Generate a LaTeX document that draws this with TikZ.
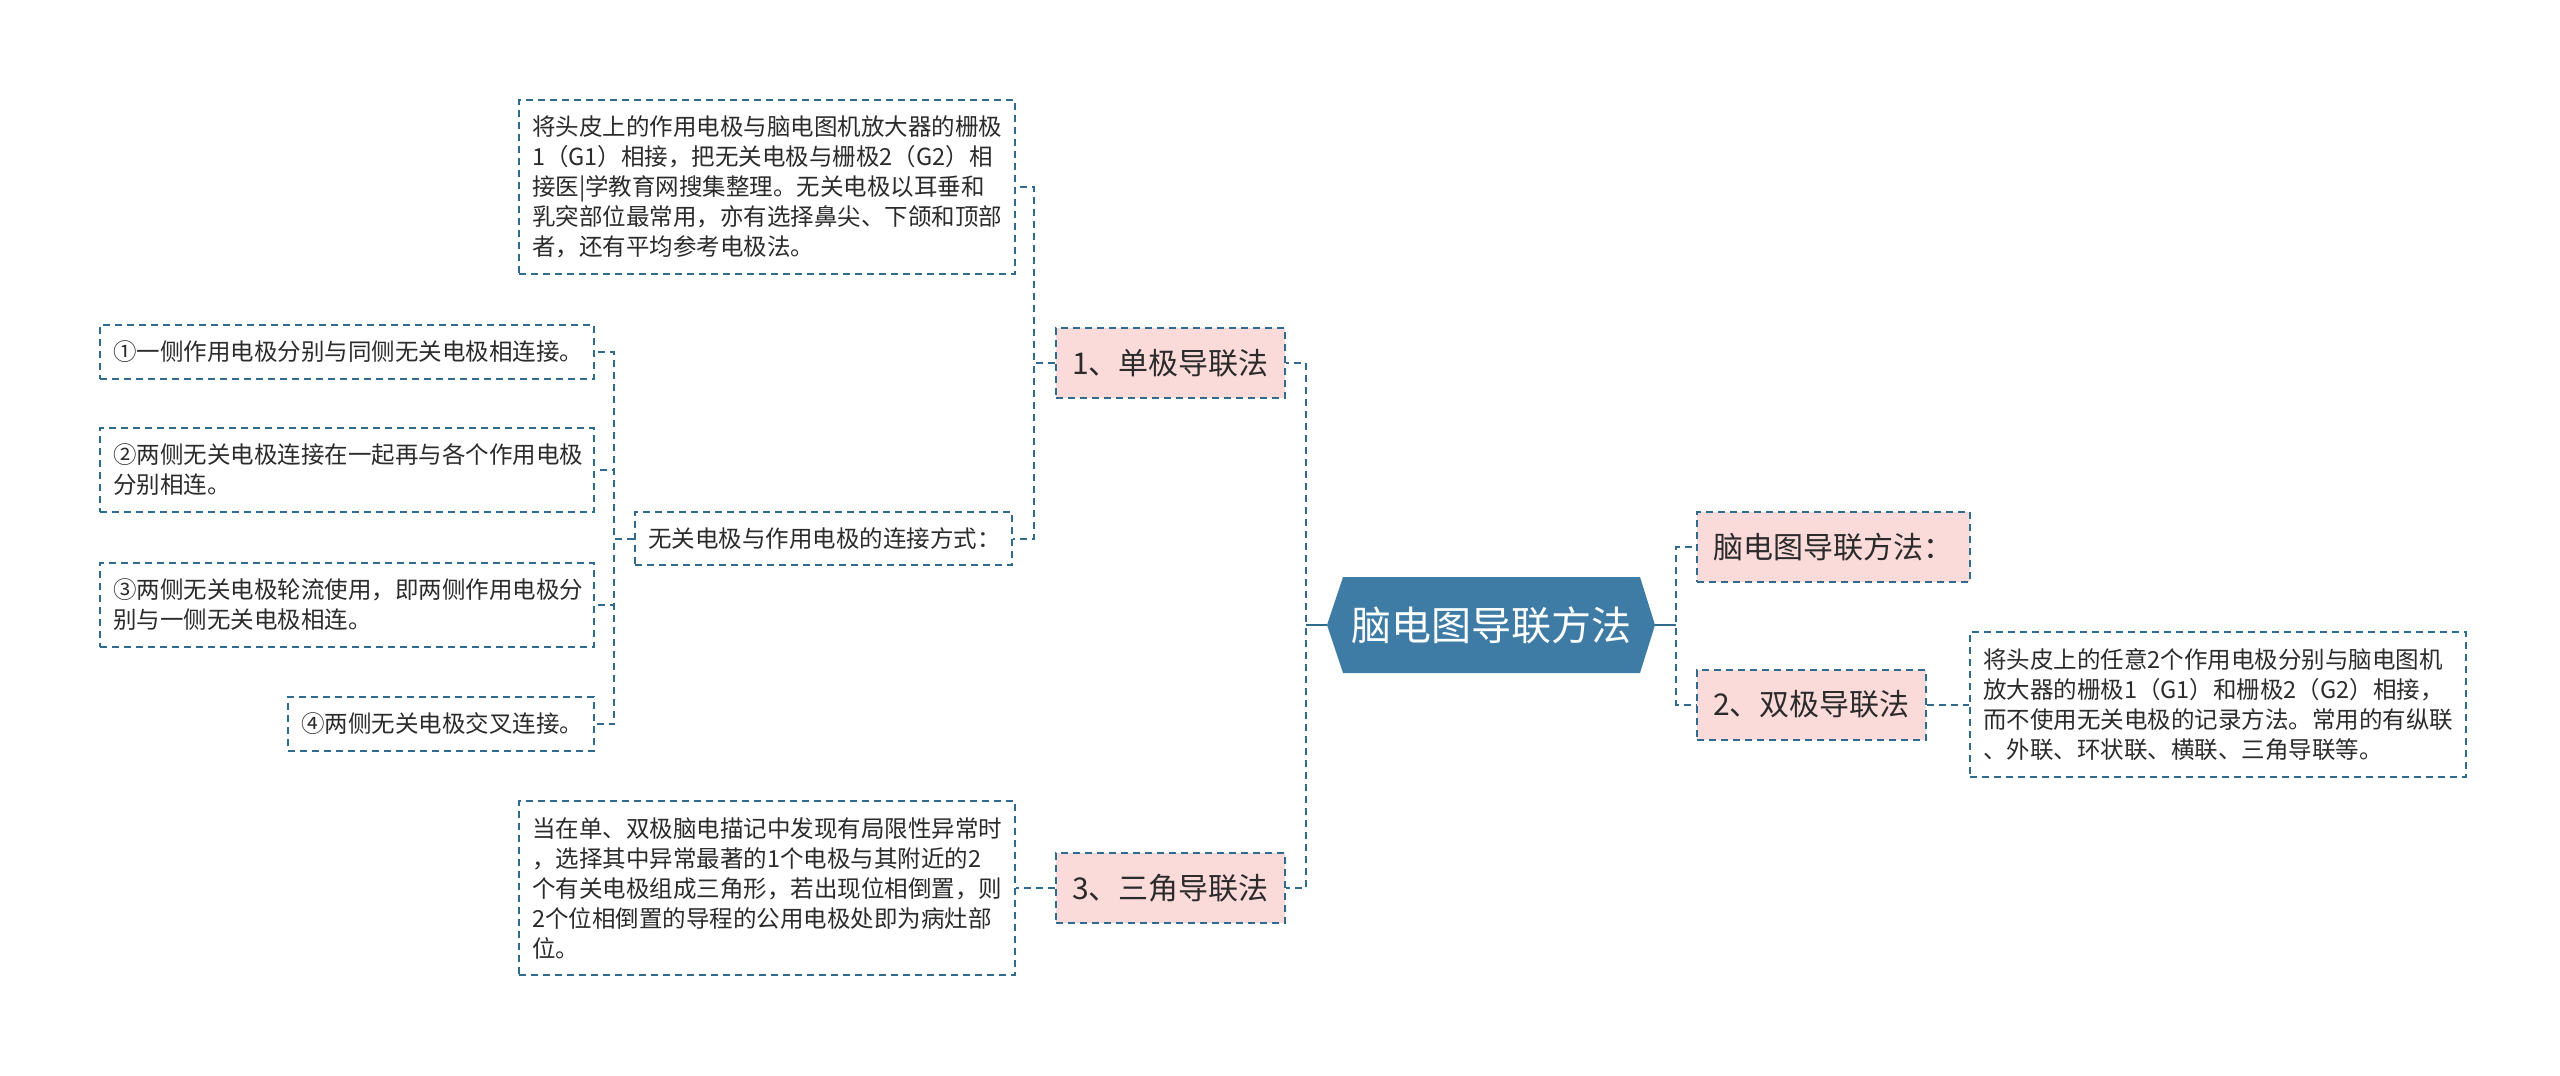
\documentclass[tikz,border=0pt]{standalone}
\usepackage{fontspec}
\setmainfont{Noto Sans CJK SC}
\usetikzlibrary{calc}
\definecolor{lnblue}{HTML}{2F6A8F}
\definecolor{hexblue}{HTML}{3E7CA6}
\definecolor{pinkbg}{HTML}{FBDADA}
\definecolor{txt}{HTML}{2B2B2B}
\tikzset{
  dashln/.style={draw=lnblue, line width=2pt, dash pattern=on 7pt off 5pt},
  leaf/.style={dashln, text=txt, inner xsep=13pt, inner ysep=0pt, align=left,
    font=\fontsize{23.5}{30}\selectfont},
  topic/.style={dashln, fill=pinkbg, text=txt, inner sep=0pt, align=center,
    font=\fontsize{30}{36}\selectfont, minimum height=70pt},
  link/.style={dashln},
  stub/.style={draw=lnblue, line width=2pt},
}
\begin{document}
\begin{tikzpicture}[x=1pt, y=-1pt]
\useasboundingbox (0,0) rectangle (2560,1076);
% central topic
\fill[hexblue] (1343,577) -- (1640,577) -- (1655,625) -- (1640,673) -- (1343,673) -- (1327,625) -- cycle;
\node[font=\fontsize{40}{48}\selectfont, text=white, minimum width=328pt, minimum height=96pt, inner sep=0pt] (c) at (1491,625) {脑电图导联方法};
% main topics
\node[topic, minimum width=229pt] (n1) at (1170.5,363) {1、单极导联法};
\node[topic, minimum width=229pt] (n3) at (1170.5,888) {3、三角导联法};
\node[topic, minimum width=273pt] (n2r) at (1833.5,547) {脑电图导联方法：};
\node[topic, minimum width=229pt] (n2) at (1811.5,704.5) {2、双极导联法};
% leaves
\node[leaf, text width=470pt, minimum height=174pt] (tb) at (767,187) {将头皮上的作用电极与脑电图机放大器的栅极\\1（G1）相接，把无关电极与栅极2（G2）相\\接医|学教育网搜集整理。无关电极以耳垂和\\乳突部位最常用，亦有选择鼻尖、下颌和顶部\\者，还有平均参考电极法。};
\node[leaf, text width=351pt, minimum height=53pt] (cb) at (823.5,538.5) {无关电极与作用电极的连接方式：};
\node[leaf, text width=468pt, minimum height=54pt] (b1) at (347,352) {①一侧作用电极分别与同侧无关电极相连接。};
\node[leaf, text width=468pt, minimum height=84pt] (b2) at (347,470) {②两侧无关电极连接在一起再与各个作用电极\\分别相连。};
\node[leaf, text width=468pt, minimum height=84pt] (b3) at (347,605) {③两侧无关电极轮流使用，即两侧作用电极分\\别与一侧无关电极相连。};
\node[leaf, text width=280pt, minimum height=54pt] (b4) at (441,724) {④两侧无关电极交叉连接。};
\node[leaf, text width=470pt, minimum height=174pt] (bb) at (767,888) {当在单、双极脑电描记中发现有局限性异常时\\，选择其中异常最著的1个电极与其附近的2\\个有关电极组成三角形，若出现位相倒置，则\\2个位相倒置的导程的公用电极处即为病灶部\\位。};
\node[leaf, text width=470pt, minimum height=145pt] (rb) at (2218,704.5) {将头皮上的任意2个作用电极分别与脑电图机\\放大器的栅极1（G1）和栅极2（G2）相接，\\而不使用无关电极的记录方法。常用的有纵联\\、外联、环状联、横联、三角导联等。};
% connectors
\draw[link] (c.west) -- ++(-21,0) |- (n1.east);
\draw[link] (c.west) -- ++(-21,0) |- (n3.east);
\draw[stub] (c.west) -- ++(-21,0);
\draw[link] (c.east) -- ++(21,0) |- (n2r.west);
\draw[link] (c.east) -- ++(21,0) |- (n2.west);
\draw[stub] (c.east) -- ++(21,0);
\draw[link] (n2.east) -- (rb.west);
\draw[link] (n1.west) -- ++(-21,0) |- (tb.east);
\draw[link] (n1.west) -- ++(-21,0) |- (cb.east);
\draw[link] (n3.west) -- (bb.east);
\draw[link] (cb.west) -- ++(-20,0) |- (b1.east);
\draw[link] (cb.west) -- ++(-20,0) |- (b2.east);
\draw[link] (cb.west) -- ++(-20,0) |- (b3.east);
\draw[link] (cb.west) -- ++(-20,0) |- (b4.east);
\end{tikzpicture}
\end{document}
